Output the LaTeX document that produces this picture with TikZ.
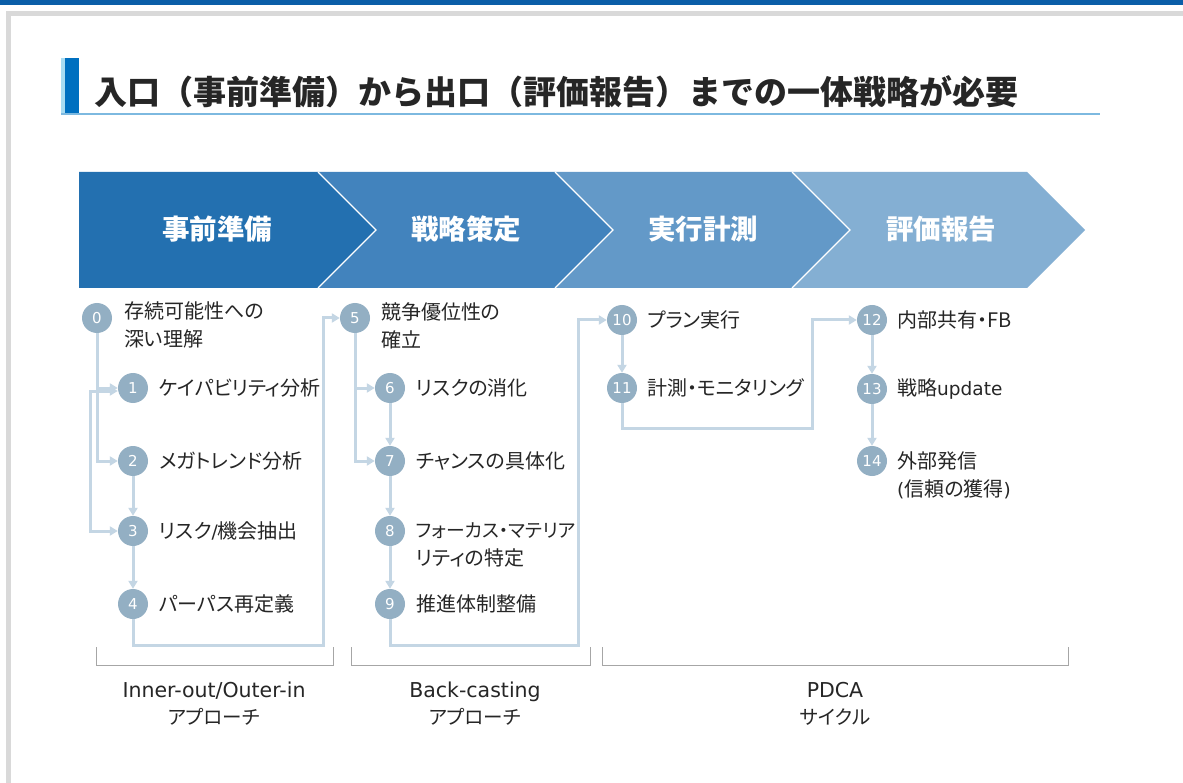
\documentclass[tikz,border=0pt]{standalone}
\usepackage{fontspec}
\newfontfamily\jp{Noto Sans CJK JP}[RawFeature=+palt]
\newfontfamily\jpfull{Noto Sans CJK JP}
\newfontfamily\lat{DejaVu Sans}
\usetikzlibrary{arrows.meta}
\definecolor{topbar}{HTML}{0B5EA8}
\definecolor{framegray}{HTML}{D9D9D9}
\definecolor{accA}{HTML}{A9DCF2}
\definecolor{accB}{HTML}{0070C0}
\definecolor{uline}{HTML}{7DB9E0}
\definecolor{ttl}{HTML}{262626}
\definecolor{chA}{HTML}{2370B0}
\definecolor{chB}{HTML}{4283BD}
\definecolor{chC}{HTML}{6399C8}
\definecolor{chD}{HTML}{84AFD3}
\definecolor{circ}{HTML}{93AFC3}
\definecolor{connc}{HTML}{C4D6E4}
\definecolor{brk}{HTML}{A6A6A6}
\definecolor{txt}{HTML}{262626}
\newcommand{\lt}[1]{{\lat\fontsize{18.5}{28}\selectfont #1}}
\begin{document}
\begin{tikzpicture}[x=1pt,y=-1pt,
  num/.style={circle, fill=circ, minimum size=30pt, inner sep=0pt, text=white, font=\lat\fontsize{15}{15}\selectfont},
  lbl/.style={anchor=west, inner sep=0pt, text=txt, align=left, font=\jp\fontsize{20}{28}\selectfont},
  flow/.style={draw=connc, line width=3pt, -{Triangle[length=8pt,width=9pt]}},
  plainflow/.style={draw=connc, line width=3pt},
  bracketline/.style={draw=brk, line width=1pt},
  phase/.style={text=white, inner sep=0pt, font=\jpfull\bfseries\fontsize{27.5}{27.5}\selectfont},
  captxt/.style={align=center, inner sep=0pt, text=txt, font=\jp\fontsize{19.5}{27}\selectfont},
  sep/.style={draw=white, line width=1.3pt}
]
\useasboundingbox (0,0) rectangle (1183,783);
\fill[white] (0,0) rectangle (1183,783);
% top bar and frame
\fill[topbar] (0,0) rectangle (1183,5);
\draw[framegray, line width=5pt] (8.5,783) -- (8.5,13.5) -- (1183,13.5);
% title
\fill[accA] (61,58) rectangle (66,115);
\fill[accB] (65,58) rectangle (79,115);
\draw[uline, line width=2pt] (61,114) -- (1100,114);
\node[anchor=west, inner sep=0pt, text=ttl, font=\jpfull\bfseries\fontsize{33}{33}\selectfont] (title) at (94,92) {入口（事前準備）から出口（評価報告）までの一体戦略が必要};
% chevrons
\fill[chA] (79,172) -- (318,172) -- (376,230) -- (318,288) -- (79,288) -- cycle;
\fill[chB] (318,172) -- (555,172) -- (613,230) -- (555,288) -- (318,288) -- (376,230) -- cycle;
\fill[chC] (555,172) -- (792,172) -- (850,230) -- (792,288) -- (555,288) -- (613,230) -- cycle;
\fill[chD] (792,172) -- (1027,172) -- (1085,230) -- (1027,288) -- (792,288) -- (850,230) -- cycle;
\draw[sep] (318,172) -- (376,230) -- (318,288);
\draw[sep] (555,172) -- (613,230) -- (555,288);
\draw[sep] (792,172) -- (850,230) -- (792,288);
\node[phase] (p1) at (217,229) {事前準備};
\node[phase] (p2) at (466,229) {戦略策定};
\node[phase] (p3) at (703,229) {実行計測};
\node[phase] (p4) at (941,229) {評価報告};
% circles
\node[num] (c0) at (97,318) {0};
\node[num] (c1) at (133,388) {1};
\node[num] (c2) at (133,461) {2};
\node[num] (c3) at (133,531) {3};
\node[num] (c4) at (133,604) {4};
\node[num] (c5) at (355,318) {5};
\node[num] (c6) at (390,388) {6};
\node[num] (c7) at (390,461) {7};
\node[num] (c8) at (390,531) {8};
\node[num] (c9) at (390,604) {9};
\node[num] (c10) at (622,320) {10};
\node[num] (c11) at (622,388) {11};
\node[num] (c12) at (872,320) {12};
\node[num] (c13) at (872,389) {13};
\node[num] (c14) at (872,461) {14};
% labels
\node[lbl] (l0) at (124,325) {存続可能性への\\深い理解};
\node[lbl] (l1) at (159,388) {ケイパビリティ分析};
\node[lbl] (l2) at (159,461) {メガトレンド分析};
\node[lbl] (l3) at (159,531) {リスク\lt{/}機会抽出};
\node[lbl] (l4) at (159,604) {パーパス再定義};
\node[lbl] (l5) at (381,326) {競争優位性の\\確立};
\node[lbl] (l6) at (416,388) {リスクの消化};
\node[lbl] (l7) at (416,461) {チャンスの具体化};
\node[lbl] (l8) at (416,545) {{\fontsize{18.8}{28}\selectfont フォーカス・マテリア}\\リティの特定};
\node[lbl] (l9) at (416,604) {推進体制整備};
\node[lbl] (l10) at (647,320) {プラン実行};
\node[lbl] (l11) at (647,388) {計測・モニタリング};
\node[lbl] (l12) at (897,320) {内部共有・FB};
\node[lbl] (l13) at (897,389) {戦略\lt{update}};
\node[lbl] (l14) at (897,475) {外部発信\\\lt{(}信頼の獲得\lt{)}};
% junction coordinates
\coordinate (j13) at (90,391);
\coordinate (b45) at (323,645);
\coordinate (b910) at (578,645);
\coordinate (b1112) at (812,428);
% connectors section 1
\draw[flow] (c0.south) |- (c2.west);
\draw[flow] (c0.south |- c1.west) -- (c1.west);
\draw[plainflow, {Triangle[length=8pt,width=9pt]}-{Triangle[length=8pt,width=9pt]}] (c1.west |- j13) -- (j13) |- (c3.west);
\draw[flow] (c2.south) -- (c3.north);
\draw[flow] (c3.south) -- (c4.north);
\draw[flow] (c4.south) |- (b45) |- (c5.west);
% section 2
\draw[flow] (c5.south) |- (c7.west);
\draw[flow] (c5.south |- c6.west) -- (c6.west);
\draw[flow] (c6.south) -- (c7.north);
\draw[flow] (c7.south) -- (c8.north);
\draw[flow] (c8.south) -- (c9.north);
\draw[flow] (c9.south) |- (b910) |- (c10.west);
% section 3
\draw[flow] (c10.south) -- (c11.north);
\draw[flow] (c11.south) |- (b1112) |- (c12.west);
% section 4
\draw[flow] (c12.south) -- (c13.north);
\draw[flow] (c13.south) -- (c14.north);
% brackets
\draw[bracketline] (96,647) |- (333,665) -- (333,647);
\draw[bracketline] (351,647) |- (590,665) -- (590,647);
\draw[bracketline] (602,647) |- (1068,665) -- (1068,647);
\node[captxt] (k1) at (214,704) {{\lat\fontsize{20.5}{27}\selectfont Inner-out/Outer-in}\\アプローチ};
\node[captxt] (k2) at (475,704) {{\lat\fontsize{20.5}{27}\selectfont Back-casting}\\アプローチ};
\node[captxt] (k3) at (835,704) {{\lat\fontsize{20.5}{27}\selectfont PDCA}\\サイクル};
\end{tikzpicture}
\end{document}
